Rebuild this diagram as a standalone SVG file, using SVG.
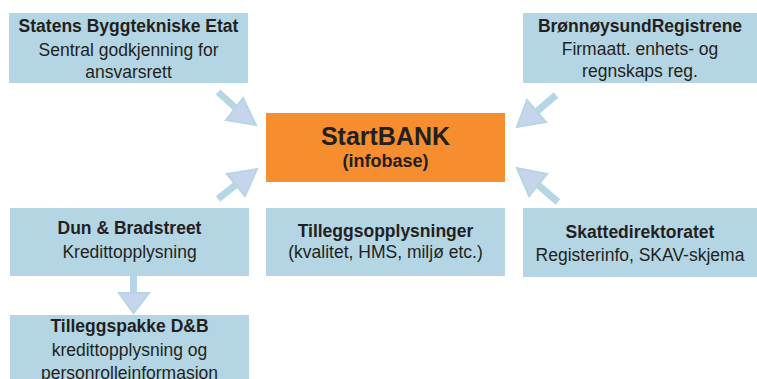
<svg xmlns="http://www.w3.org/2000/svg" width="757" height="379" viewBox="0 0 757 379">
<style>
.box{fill:#b4d5e3}
.core{fill:#f68d2e}
text{font-family:"Liberation Sans",Arial,sans-serif;fill:#231f20;text-anchor:middle}
.b{font-weight:bold;font-size:17.5px}
.r{font-size:17.5px}
.big{font-weight:bold;font-size:25px}
.sub{font-weight:bold;font-size:18px}
.shaft{stroke:#b7d6e5;stroke-width:7;fill:none}
.head{fill:#c6d5ec;stroke:#b7d6e5;stroke-width:2;stroke-linejoin:miter}
</style>
<rect width="757" height="379" fill="#ffffff"/>
<g id="connectors">
<line class="shaft" x1="218" y1="92" x2="238" y2="110"/>
<polygon class="head" points="243,98 226,120 256,125"/>
<line class="shaft" x1="218" y1="199" x2="238" y2="183"/>
<polygon class="head" points="227,174 245,196 257,169"/>
<line class="shaft" x1="556" y1="95" x2="535" y2="113"/>
<polygon class="head" points="527,100 546,122 517,127"/>
<line class="shaft" x1="558" y1="202" x2="537" y2="184"/>
<polygon class="head" points="547,174 529,196 517,168"/>
<line class="shaft" x1="133.5" y1="276" x2="133.5" y2="294"/>
<polygon class="head" points="119,293 149,293 133.5,313"/>
</g>
<g id="statens">
<rect class="box" x="9" y="13" width="239" height="70"/>
<text class="b" x="128.5" y="32">Statens Byggtekniske Etat</text>
<text class="r" x="128.5" y="56">Sentral godkjenning for</text>
<text class="r" x="128.5" y="78">ansvarsrett</text>
</g>
<g id="bronnoysund">
<rect class="box" x="523" y="13" width="234" height="70"/>
<text class="b" x="640" y="32">BrønnøysundRegistrene</text>
<text class="r" x="640" y="55">Firmaatt. enhets- og</text>
<text class="r" x="640" y="77">regnskaps reg.</text>
</g>
<g id="startbank">
<rect class="core" x="266" y="113" width="239" height="69"/>
<text class="big" x="385.5" y="145">StartBANK</text>
<text class="sub" x="385.5" y="167">(infobase)</text>
</g>
<g id="dun">
<rect class="box" x="10" y="208" width="239" height="68"/>
<text class="b" x="129.5" y="234">Dun &amp; Bradstreet</text>
<text class="r" x="129.5" y="258">Kredittopplysning</text>
</g>
<g id="tilleggsopplysninger">
<rect class="box" x="266" y="208" width="239" height="68"/>
<text class="b" x="385.5" y="237">Tilleggsopplysninger</text>
<text class="r" x="385.5" y="258">(kvalitet, HMS, miljø etc.)</text>
</g>
<g id="skattedirektoratet">
<rect class="box" x="523" y="208" width="234" height="69"/>
<text class="b" x="640" y="238">Skattedirektoratet</text>
<text class="r" x="640" y="261">Registerinfo, SKAV-skjema</text>
</g>
<g id="tilleggspakke">
<rect class="box" x="10" y="315" width="239" height="64"/>
<text class="b" x="129.5" y="332">Tilleggspakke D&amp;B</text>
<text class="r" x="129.5" y="356">kredittopplysning og</text>
<text class="r" x="129.5" y="379">personrolleinformasjon</text>
</g>
</svg>
